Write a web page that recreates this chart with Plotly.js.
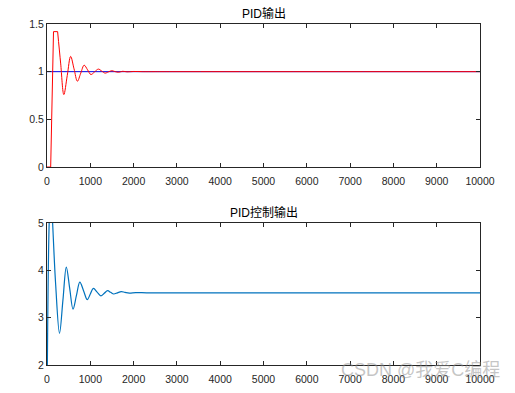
<!DOCTYPE html>
<html>
<head>
<meta charset="utf-8">
<script src="https://cdn.plot.ly/plotly-3.0.1.min.js"></script>
<style>html,body{margin:0;padding:0;background:#fff;}#chart{width:515px;height:393px;}</style>
</head>
<body>
<div id="chart"></div>
<script>
// Top subplot: PID output (red) and setpoint (blue)
const topTitle = "PID输出";
const bottomTitle = "PID控制输出";
const setX = [0, 10000];
const setY = [1, 1];
// start of the response (dead time, rise, saturated peak)
const outStartX = [0, 85, 150, 245];
const outStartY = [0, 0, 1.42, 1.42];
// damped oscillation afterwards
const outX = [245, 315, 389, 468, 546, 624, 702, 780, 858, 936, 1014, 1100, 1186, 1264, 1342, 1420, 1498, 1576, 1654, 1750, 1850, 2000, 2200, 2500, 3000, 10000];
const outY = [1.42, 1.09, 0.76, 0.96, 1.16, 1.03, 0.90, 0.985, 1.068, 1.02, 0.97, 0.998, 1.027, 1.006, 0.985, 0.998, 1.01, 1.0, 0.994, 1.004, 0.998, 1.002, 1.0, 1.0, 1.0, 1.0];
// Bottom subplot: control output
const uX = [0, 50, 90, 130, 200, 289, 368, 446, 524, 601, 680, 758, 844, 930, 1000, 1071, 1158, 1244, 1322, 1400, 1470, 1540, 1627, 1713, 1800, 1900, 2050, 2300, 2700, 10000];
const uY = [1.0, 5.0, 5.8, 5.0, 3.7, 2.67, 3.37, 4.07, 3.62, 3.18, 3.47, 3.75, 3.57, 3.38, 3.50, 3.62, 3.54, 3.46, 3.515, 3.57, 3.535, 3.50, 3.525, 3.55, 3.535, 3.52, 3.53, 3.525, 3.525, 3.525];
const xTicks = [0, 1000, 2000, 3000, 4000, 5000, 6000, 7000, 8000, 9000, 10000];
const yTopTicks = [0, 0.5, 1, 1.5];
const yBotTicks = [2, 3, 4, 5];

const font = "Liberation Sans, Arial, Noto Sans CJK SC, sans-serif";
const axisCol = "#262626";

const traces = [
  {x: setX, y: setY, mode: "lines", line: {color: "rgb(0,0,230)", width: 1}, xaxis: "x", yaxis: "y", hoverinfo: "skip"},
  {x: outStartX, y: outStartY, mode: "lines", line: {color: "rgb(255,0,0)", width: 1}, xaxis: "x", yaxis: "y", hoverinfo: "skip"},
  {x: outX, y: outY, mode: "lines", line: {color: "rgb(255,0,0)", width: 1, shape: "spline", smoothing: 1}, xaxis: "x", yaxis: "y", hoverinfo: "skip"},
  {x: uX, y: uY, mode: "lines", line: {color: "rgb(0,114,189)", width: 1.2, shape: "spline", smoothing: 1}, xaxis: "x2", yaxis: "y2", hoverinfo: "skip"}
];

function xax(anchor) {
  return {
    anchor: anchor, domain: [0, 1], range: [0, 10000], tickvals: xTicks, ticktext: xTicks.map(String),
    ticks: "inside", ticklen: 4, tickcolor: axisCol, showline: true, linecolor: axisCol, linewidth: 1,
    mirror: "ticks", showgrid: false, zeroline: false, ticklabelstandoff: 4,
    tickfont: {family: font, size: 10.5, color: axisCol}
  };
}
function yax(anchor, dom, rng, tv) {
  return {
    anchor: anchor, domain: dom, range: rng, tickvals: tv, ticktext: tv.map(String),
    ticks: "inside", ticklen: 4, tickcolor: axisCol, showline: true, linecolor: axisCol, linewidth: 1,
    mirror: "ticks", showgrid: false, zeroline: false, tickfont: {family: font, size: 10.5, color: axisCol}
  };
}

const layout = {
  width: 515, height: 393,
  margin: {l: 47, r: 35, t: 24, b: 28},
  paper_bgcolor: "#ffffff", plot_bgcolor: "#ffffff",
  showlegend: false,
  xaxis: xax("y"),
  yaxis: yax("x", [0.5806, 1], [0, 1.5], yTopTicks),
  xaxis2: xax("y2"),
  yaxis2: yax("x2", [0, 0.4164], [2, 5], yBotTicks),
  annotations: [
    {text: topTitle, xref: "paper", yref: "paper", x: 0.5, y: 1, yshift: 1, xanchor: "center", yanchor: "bottom", showarrow: false, font: {family: font, size: 12, color: "#000"}},
    {text: bottomTitle, xref: "paper", yref: "paper", x: 0.5, y: 0.4164, yshift: 1, xanchor: "center", yanchor: "bottom", showarrow: false, font: {family: font, size: 12, color: "#000"}},
    {text: "CSDN @我爱C编程", xref: "paper", yref: "paper", x: 1.05, y: -0.015, xanchor: "right", yanchor: "middle", showarrow: false, font: {family: font, size: 18, color: "rgba(140,140,140,0.5)"}}
  ]
};

Plotly.newPlot("chart", traces, layout, {staticPlot: true, displayModeBar: false});
</script>
</body>
</html>
